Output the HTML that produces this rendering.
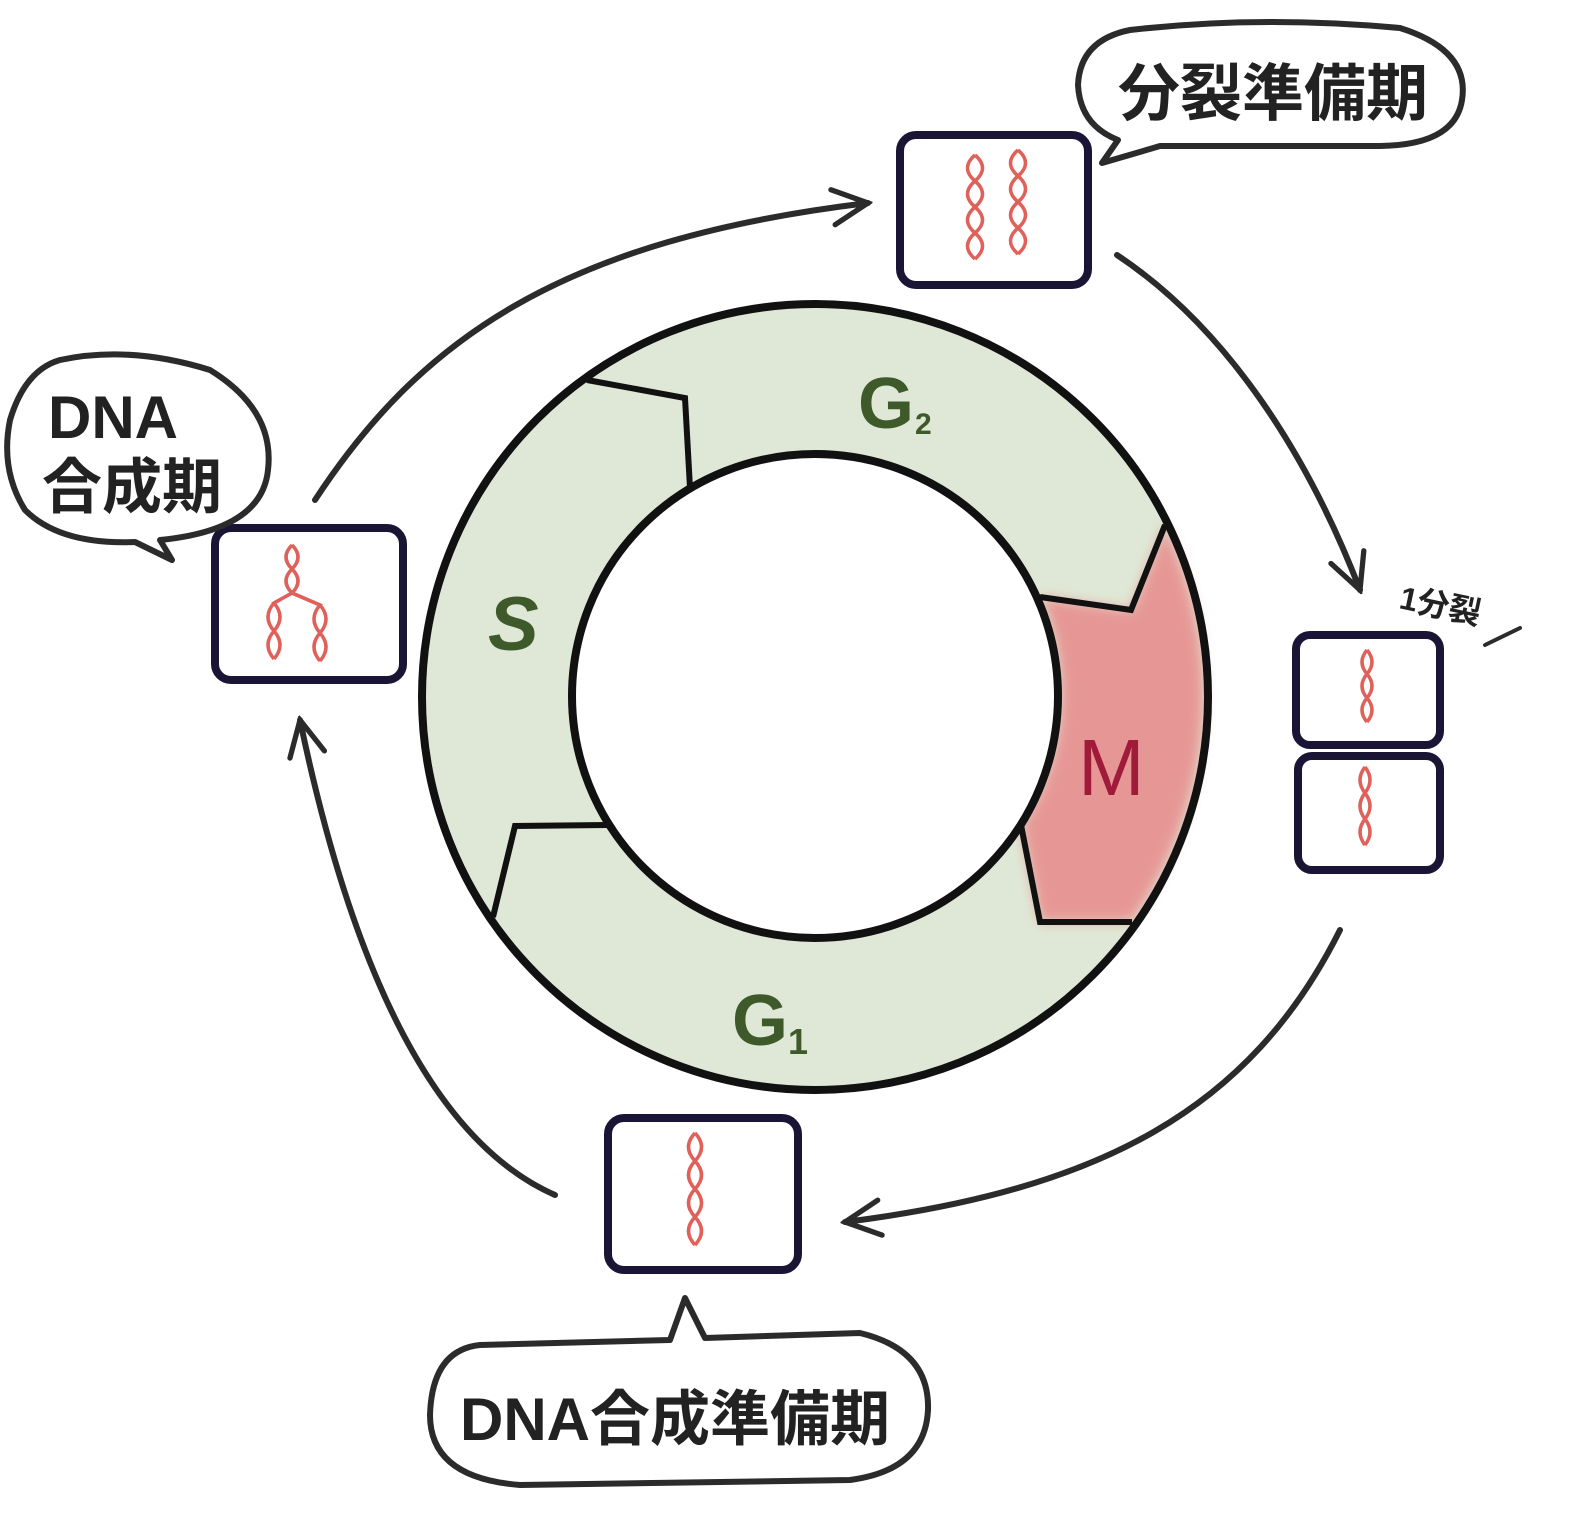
<!DOCTYPE html>
<html><head><meta charset="utf-8"><style>
html,body{margin:0;padding:0;background:#fff;}
svg{display:block;}
.h{font-family:"Liberation Sans","Noto Sans CJK JP",sans-serif;}
</style></head><body>
<svg width="1583" height="1534" viewBox="0 0 1583 1534" xmlns="http://www.w3.org/2000/svg">
<defs>
<filter id="blur"><feGaussianBlur stdDeviation="6"/></filter>
<marker id="ah" viewBox="0 0 20 20" refX="18" refY="10" markerWidth="44" markerHeight="44" markerUnits="userSpaceOnUse" orient="auto">
<path d="M2,2 L18,10 L2,18" fill="none" stroke="#2b2b2b" stroke-width="2.4" stroke-linecap="round"/>
</marker>
</defs>
<path d="M815,304 a393,393 0 1,0 0.1,0 Z M815,455 a243,242 0 1,1 -0.1,0 Z" fill="#dfe8d6" fill-rule="evenodd"/>
<path d="M1040,597 L1131,610 L1165,525 A393,393 0 0 1 1132,922 L1040,922 L1021,825 A243,242 0 0 0 1040,597 Z" fill="#e88a8a" opacity="0.85" filter="url(#blur)"/>
<circle cx="815" cy="697" r="393" fill="none" stroke="#111" stroke-width="8"/>
<ellipse cx="815" cy="696" rx="243" ry="242" fill="#fff" stroke="#111" stroke-width="8"/>
<polyline points="587,380 685,398 690,488" fill="none" stroke="#111" stroke-width="6"/>
<polyline points="493,917 515,826 607,825" fill="none" stroke="#111" stroke-width="6"/>
<polyline points="1040,597 1131,610 1165,525" fill="none" stroke="#111" stroke-width="6"/>
<polyline points="1021,825 1040,922 1132,922" fill="none" stroke="#111" stroke-width="6"/>
<g class="h" fill="#3f5a2a" font-weight="bold">
<text x="858" y="428" font-size="72">G</text><text x="915" y="434" font-size="30">2</text>
<text x="488" y="650" font-size="76" font-style="italic">S</text>
<text x="732" y="1045" font-size="72">G</text><text x="788" y="1054" font-size="36">1</text>
</g>
<text class="h" x="1078" y="795" font-size="80" fill="#a01a3a">M</text>
<g fill="#fff" stroke="#1a1535" stroke-width="8">
<rect x="900" y="135" width="188" height="150" rx="16"/>
<rect x="215" y="528" width="188" height="152" rx="16"/>
<rect x="1296" y="635" width="144" height="110" rx="14"/>
<rect x="1298" y="756" width="142" height="114" rx="14"/>
<rect x="608" y="1118" width="190" height="152" rx="16"/>
</g>
<g fill="none" stroke="#e0605a" stroke-width="3.5">
<path d="M975,155 q-15,13 0,26 q15,13 0,26 q-15,13 0,26 q15,13 0,26"/>
<path d="M975,155 q15,13 0,26 q-15,13 0,26 q15,13 0,26 q-15,13 0,26"/>
<path d="M1018,150 q-15,13 0,26 q15,13 0,26 q-15,13 0,26 q15,13 0,26"/>
<path d="M1018,150 q15,13 0,26 q-15,13 0,26 q15,13 0,26 q-15,13 0,26"/>
<path d="M1367,650 q-10,12 0,24 q10,12 0,24 q-10,12 0,24"/><path d="M1367,650 q10,12 0,24 q-10,12 0,24 q10,12 0,24"/>
<path d="M1365,767 q-10,13 0,26 q10,13 0,26 q-10,13 0,26"/><path d="M1365,767 q10,13 0,26 q-10,13 0,26 q10,13 0,26"/>
<path d="M695,1133 q-13,14 0,28 q13,14 0,28 q-13,14 0,28 q13,14 0,28"/><path d="M695,1133 q13,14 0,28 q-13,14 0,28 q13,14 0,28 q-13,14 0,28"/>
<path d="M292,545 q-12,12 0,24 q12,12 0,24 l-18,10 q-12,14 0,28 q12,14 0,28"/>
<path d="M292,545 q12,12 0,24 q-12,12 0,24 l-18,10 q12,14 0,28 q-12,14 0,28"/>
<path d="M292,593 l28,12 q-12,14 0,28 q12,14 0,28"/><path d="M292,593 l28,12 q12,14 0,28 q-12,14 0,28"/>
</g>
<g fill="none" stroke="#2b2b2b" stroke-width="6" stroke-linecap="round">
<path d="M315,500 C420,340 560,240 868,203" marker-end="url(#ah)"/>
<path d="M1117,255 C1230,330 1310,460 1360,590" marker-end="url(#ah)"/>
<path d="M1340,930 C1250,1110 1100,1190 845,1222" marker-end="url(#ah)"/>
<path d="M555,1195 C430,1140 350,960 300,720" marker-end="url(#ah)"/>
</g>
<g fill="#fff" stroke="#2b2b2b" stroke-width="6" stroke-linejoin="round">
<path d="M1130,30 Q1260,15 1400,28 Q1470,50 1462,100 Q1455,145 1380,146 L1160,146 L1102,163 L1118,140 Q1080,125 1078,85 Q1080,40 1130,30 Z"/>
<path d="M60,360 Q130,345 210,370 Q275,410 268,470 Q262,530 160,540 L172,560 L135,542 Q60,545 25,510 Q0,470 10,420 Q25,370 60,360 Z"/>
<path d="M480,1345 L670,1340 L685,1298 L705,1338 L860,1333 Q930,1350 928,1410 Q925,1470 850,1480 L520,1485 Q430,1478 430,1415 Q432,1350 480,1345 Z"/>
</g>
<g class="h" fill="#222" font-weight="bold">
<text x="1118" y="115" font-size="62">分裂準備期</text>
<text x="48" y="438" font-size="60">DNA</text>
<text x="42" y="508" font-size="60">合成期</text>
<text x="460" y="1440" font-size="60">DNA合成準備期</text>
<text x="1398" y="608" font-size="32" transform="rotate(12 1398 608)">1分裂</text>
</g>
<line x1="1485" y1="645" x2="1520" y2="628" stroke="#2b2b2b" stroke-width="4" stroke-linecap="round"/>
</svg>
</body></html>
